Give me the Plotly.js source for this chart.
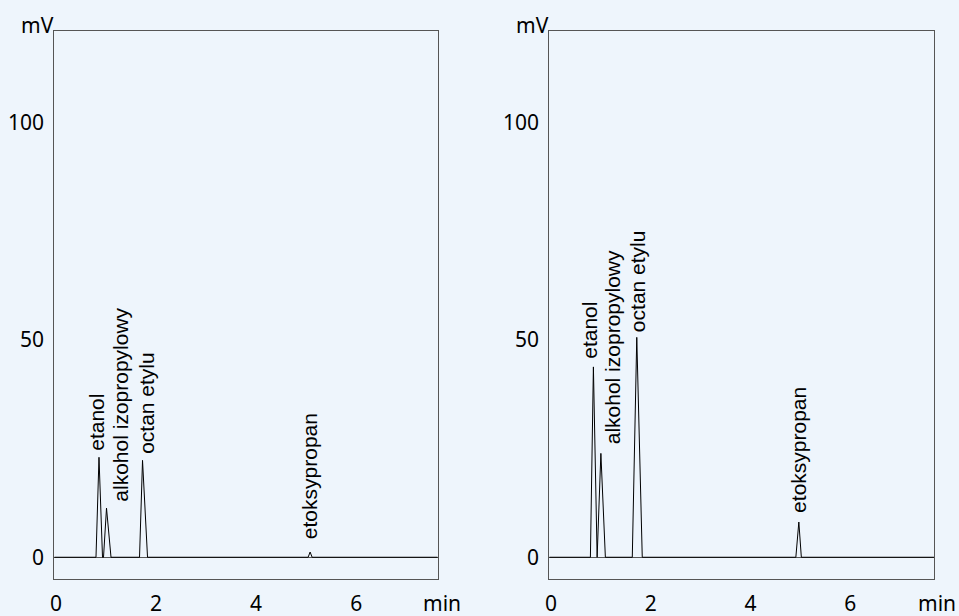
<!DOCTYPE html>
<html>
<head>
<meta charset="utf-8">
<script src="https://cdn.plot.ly/plotly-3.0.1.min.js"></script>
<style>
html,body{margin:0;padding:0;background:#eef5fc;}
#chart{width:959px;height:616px;}
</style>
</head>
<body>
<div id="chart"></div>
<script>
// Left chromatogram (time in min, signal in mV)
const timeLeft   = [-0.034, 0.80, 0.86, 0.93, 0.95, 1.01, 1.10, 1.67, 1.73, 1.83, 5.04, 5.08, 5.12, 7.63];
const signalLeft = [0,      0,    23.0, 0,    0,    11.3, 0,    0,    22.3, 0,    0,    1.2,  0,    0];
// Right chromatogram
const timeRight   = [-0.034, 0.79, 0.85, 0.925, 1.00, 1.09, 1.63, 1.72, 1.83, 4.91, 4.97, 5.02, 7.68];
const signalRight = [0,      0,    43.8, 0,     23.9, 0,    0,    50.6, 0,    0,    8.1,  0,    0];

// Peak labels
const peakNames     = ["etanol", "alkohol izopropylowy", "octan etylu", "etoksypropan"];
const peakTimesL    = [0.86, 1.01, 1.73, 5.08];
const peakHeightsL  = [23.0, 11.3, 22.3, 1.2];
const peakTimesR    = [0.85, 1.00, 1.72, 4.97];
const peakHeightsR  = [43.8, 23.9, 50.6, 8.1];

const xTicks = [0, 2, 4, 6];
const yTicks = [0, 50, 100];

const labelXShiftL = [-2, 14, 4, -1];
const labelYShiftL = [6, 5, 5, 12];
const labelXShiftR = [-4, 12, 1, -1];
const labelYShiftR = [7, 8, 4, 8];

const bg = '#eef5fc';
const tickFont = {family: 'Noto Sans, sans-serif', size: 21, color: '#000'};
const labelFont = {family: 'Liberation Sans, Arial, sans-serif', size: 21, color: '#000'};

function xAxis(domain, range) {
  return {
    domain: domain, range: range, tickvals: xTicks, ticktext: xTicks.map(String),
    showline: true, mirror: true, linecolor: '#555', linewidth: 1,
    showgrid: false, zeroline: false,
    ticks: 'outside', ticklen: 6, tickcolor: 'rgba(0,0,0,0)',
    tickfont: tickFont, fixedrange: true
  };
}
function yAxis(anchor) {
  return {
    domain: [0.0601, 0.9497], range: [-5.0, 121.1], tickvals: yTicks, ticktext: yTicks.map(String),
    anchor: anchor,
    showline: true, mirror: true, linecolor: '#555', linewidth: 1,
    showgrid: false, zeroline: true, zerolinecolor: '#555', zerolinewidth: 1,
    ticks: 'outside', ticklen: 5, tickcolor: 'rgba(0,0,0,0)',
    tickfont: tickFont, fixedrange: true
  };
}

const traces = [
  {x: timeLeft, y: signalLeft, xaxis: 'x', yaxis: 'y', type: 'scatter', mode: 'lines',
   line: {color: '#000', width: 1}, hoverinfo: 'skip'},
  {x: timeRight, y: signalRight, xaxis: 'x2', yaxis: 'y2', type: 'scatter', mode: 'lines',
   line: {color: '#000', width: 1}, hoverinfo: 'skip'}
];

const annotations = [];
peakNames.forEach((name, i) => {
  annotations.push({xref: 'x', yref: 'y', x: peakTimesL[i], y: peakHeightsL[i], text: name,
    textangle: -90, showarrow: false, xanchor: 'center', yanchor: 'bottom',
    xshift: labelXShiftL[i], yshift: labelYShiftL[i], font: labelFont, borderpad: 0});
  annotations.push({xref: 'x2', yref: 'y2', x: peakTimesR[i], y: peakHeightsR[i], text: name,
    textangle: -90, showarrow: false, xanchor: 'center', yanchor: 'bottom',
    xshift: labelXShiftR[i], yshift: labelYShiftR[i], font: labelFont, borderpad: 0});
});
// axis unit labels
annotations.push({xref: 'paper', yref: 'paper', x: 55/959, y: 1 - 25/616, text: 'mV',
  showarrow: false, xanchor: 'right', yanchor: 'middle', font: tickFont, borderpad: 0});
annotations.push({xref: 'paper', yref: 'paper', x: 550/959, y: 1 - 25/616, text: 'mV',
  showarrow: false, xanchor: 'right', yanchor: 'middle', font: tickFont, borderpad: 0});
annotations.push({xref: 'paper', yref: 'paper', x: 422/959, y: 1 - 603/616, text: 'min',
  showarrow: false, xanchor: 'left', yanchor: 'middle', font: tickFont, borderpad: 0});
annotations.push({xref: 'paper', yref: 'paper', x: 917/959, y: 1 - 603/616, text: 'min',
  showarrow: false, xanchor: 'left', yanchor: 'middle', font: tickFont, borderpad: 0});

const layout = {
  width: 959, height: 616,
  margin: {l: 0, r: 0, t: 0, b: 0},
  paper_bgcolor: bg, plot_bgcolor: bg,
  showlegend: false,
  xaxis: xAxis([0.0566, 0.4564], [-0.034, 7.63]),
  yaxis: yAxis('x'),
  xaxis2: xAxis([0.5728, 0.9739], [-0.034, 7.68]),
  yaxis2: yAxis('x2'),
  annotations: annotations
};
layout.xaxis.anchor = 'y';
layout.xaxis2.anchor = 'y2';

Plotly.newPlot('chart', traces, layout, {displayModeBar: false, staticPlot: true});
</script>
</body>
</html>
